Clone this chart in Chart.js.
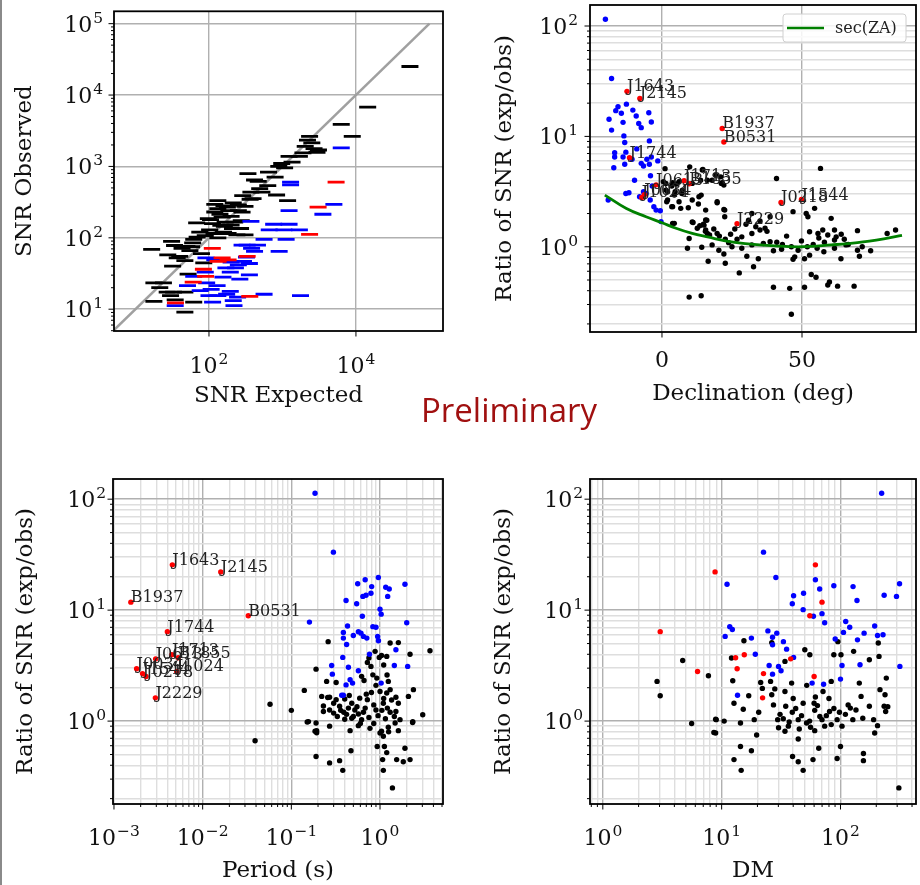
<!DOCTYPE html>
<html>
<head>
<meta charset="utf-8">
<script src="https://cdn.jsdelivr.net/npm/chart.js@4.4.1/dist/chart.umd.min.js"></script>
<style>
  body { margin: 0; background: #fff; width: 920px; height: 885px; position: relative; overflow: hidden; }
  .panel { position: absolute; }
  .edge { position: absolute; left: 0; top: 0; width: 2px; height: 885px; background: #8a8a8a; z-index: 2; }
  #prelim { position: absolute; left: 421px; top: 393px; font-family: "Open Sans"; font-size: 33px; line-height: 1; color: #a01010; white-space: nowrap; }
</style>
</head>
<body>
<div class="edge"></div>
<canvas id="snr" class="panel" style="left:0;top:0"></canvas>
<canvas id="dec" class="panel" style="left:460px;top:0"></canvas>
<canvas id="per" class="panel" style="left:0;top:440px"></canvas>
<canvas id="dm" class="panel" style="left:460px;top:440px"></canvas>
<div id="prelim">Preliminary</div>
<script>
// ---- SNR expected vs observed, [expected, observed]
const snrBlack = [[54300,25100],[14450,6760],[6310,3890],[8910,2630],[2340,2630],[2190,2340],[2510,2140],[2040,1910],
  [2690,1780],[1900,1550],[2950,1580],[1230,1380],[1700,1380],[977,1100],[339,794],[646,832],[794,708],[468,617],
  [631,537],[490,490],[1175,331],[372,437],[525,437],[288,389],[363,347],[132,331],[120,295],[214,309],[309,275],
  [132,257],[186,240],[251,240],[282,229],[68,162],[98,186],[151,195],[166,166],[224,166],[275,174],[162,145],
  [209,135],[269,135],[102,129],[117,115],[182,115],[240,110],[309,110],[69,102],[31,89],[34,78],[16.6,69],[43,71],
  [55,66],[79,60],[27.5,57.5],[37,52.5],[47,48],[85,44.7],[32,40],[52,31],[24,23.4],[27,17.4],[30,15.5],[17.8,12.9],
  [34.7,13.5],[47,17.4],[62,12.6],[47,9.1],[17.8,23.4],[21.4,20],[33,17.4],[141,214],[200,200],[112,158],[251,288],
  [398,355],[178,269],[89,107],[132,100],[60,85],[200,151],[158,120],[50,76],[417,646],[1350,1150],[3090,1700],
  [1070,955],[891,1000],[832,398],[120,230],[160,280],[105,180],[145,150],[75,120],[62,95],[40,55],[58,75]];
const snrBlue = [[6310,1820],[5010,295],[3550,214],[1290,603],[1290,550],[1230,240],[372,170],[759,155],[1230,155],
  [661,129],[1047,129],[1700,129],[562,95],[1122,95],[902,64.6],[331,79],[457,79],[380,71],[417,64.6],[91,52.5],
  [120,49],[295,46.8],[251,41.7],[170,38],[229,38],[324,53.7],[355,30.2],[195,33],[89,33],[62,28.8],[51,21.4],
  [93,23.4],[129,21.4],[195,17.8],[107,19],[100,15.5],[132,15.5],[174,16.2],[245,14.8],[562,16.2],[1760,15.5],
  [112,12.6],[214,13.2],[219,11.2],[34.7,11.2],[282,79],[200,45.7],[355,43.7],[155,28.2],[263,26.3],[76,18.2]];
const snrRed = [[5370,603],[3055,269],[2340,112],[111,71],[151,52.5],[61,24],[84,36.3],[359,15.1],[35,12.3],
  [331,55],[90,28.8],[133,46.8],[182,49]];
const oneToOne = [4, 1e5];

// ---- millisecond pulsars marked in red (shared by the ratio panels)
const mspNames  = ['B1937','J1643','J2145','B0531','J1744','J1713','B1855','J0613','J0034','J1024','J1544','J0218','J2229'];
const mspDec    = [21.5, -12.5, -7.9, 22.1, -11.6, 7.9, 9.7, -2.1, -6.3, -7.2, 49.8, 42.5, 26.8];
const mspPeriod = [0.00155, 0.00455, 0.016, 0.0327, 0.0040, 0.0045, 0.0053, 0.00295, 0.0018, 0.0051, 0.0021, 0.0023, 0.00293];
const mspDM     = [69.9, 61.5, 8.8, 55.2, 3.04, 15.5, 13.1, 38.1, 13.5, 6.27, 22.5, 60, 22.1];
const mspRatio  = [11.8, 25.6, 22.1, 8.9, 6.4, 3.96, 3.72, 3.64, 2.96, 2.80, 2.68, 2.52, 1.62];

// ---- ratio vs declination, [dec, ratio]
const decBlue = [[-20.2,115],[-18.0,33.5],[-12.7,19.6],[-15.7,18.6],[-16.5,17.1],[-14.5,16.2],[-10.4,17.3],[-9.2,15.3],
  [-4.7,16.4],[-18.9,14.3],[-13.9,13.4],[-8.3,13.1],[-7.4,12.0],[-3.8,13.5],[-18.0,11.4],[-13.6,10.1],[-4.5,9.1],
  [-13.3,8.8],[-9.0,7.7],[-16.9,7.1],[-16.9,6.5],[-13.9,6.5],[-12.9,7.2],[-10.7,6.2],[-7.4,5.7],[-5.4,6.2],[-3.8,6.5],
  [-1.5,6.0],[-17.2,5.2],[-13.3,5.6],[-6.6,5.4],[-4.5,5.6],[-4.1,4.4],[-9.8,4.0],[-12.9,3.04],[-11.8,3.09],[-8.0,2.84],
  [-6.6,3.15],[-3.5,3.55],[-19.2,2.65],[-2.9,2.31],[-2.1,2.15],[-0.6,2.12],[-0.35,1.69],[-4.2,2.65],[-5.7,3.04]];
const decBlack = [[1.1,5.1],[9.9,5.3],[14.4,4.96],[56.6,5.13],[40.9,4.16],[0.5,3.88],[3.8,3.8],[6.1,3.88],[10.8,3.75],
  [13.8,4.0],[17.9,4.0],[21.5,3.8],[22.1,3.62],[1.4,3.26],[4.4,2.94],[7.1,3.04],[10.8,2.65],[14.0,2.94],[19.7,2.56],
  [2.0,2.65],[6.1,2.56],[46.8,2.08],[3.8,2.31],[6.7,2.23],[9.4,2.26],[13.0,2.44],[15.6,2.15],[22.4,2.15],[51.5,2.0],
  [54.5,2.23],[32.1,2.0],[30.9,1.74],[35.0,1.71],[10.8,1.68],[16.0,1.74],[14.8,1.6],[60.4,1.81],[52.1,1.87],[3.8,1.63],
  [38.6,1.87],[9.7,1.19],[12.6,1.47],[15.6,1.42],[16.2,1.32],[19.7,1.32],[22.6,1.17],[23.8,1.09],[26.8,1.17],[28.5,1.23],
  [32.1,1.32],[35.0,1.42],[36.8,1.47],[44.5,1.25],[52.7,1.37],[55.7,1.32],[57.4,1.42],[59.2,1.28],[61.6,1.42],[62.2,1.23],
  [65.1,1.17],[69.8,1.4],[80.4,1.32],[83.4,1.42],[61.6,1.15],[49.8,1.13],[9.1,0.97],[14.2,0.99],[17.9,1.04],[20.3,0.93],
  [25.0,1.0],[28.5,0.97],[32.1,1.04],[36.2,1.07],[38.6,1.11],[39.8,0.92],[42.7,0.95],[46.2,1.0],[48.6,0.93],[51.9,1.0],
  [55.4,0.97],[57.8,0.90],[61.6,0.97],[65.7,1.04],[69.8,0.93],[74.5,0.92],[52.7,0.84],[16.5,0.74],[22.1,0.86],[22.6,0.71],
  [30.3,0.82],[34.4,0.78],[47.4,0.81],[50.9,0.78],[63.9,0.78],[70.5,0.82],[46.8,0.77],[32.7,0.66],[27.6,0.58],[53.3,0.56],
  [55.0,0.53],[59.2,0.45],[59.8,0.48],[62.7,0.44],[39.8,0.43],[45.6,0.42],[50.9,0.43],[68.6,0.44],[9.7,0.35],[14.0,0.36],
  [46.2,0.245],[1.4,3.75],[3.5,3.55],[5.2,3.7],[2.0,3.15],[4.7,3.15],[7.3,3.26],[1.7,2.56],[3.5,2.31],[14.6,5.02],
  [13.2,2.84],[19.7,2.5],[22.1,2.18],[22.4,1.87],[4.4,1.63],[11.1,1.66],[15.6,1.75],[15.0,1.57],[21.0,4.3],[21.2,3.75],
  [19.1,4.46],[16.2,4.0],[13.5,1.55],[15.5,1.38],[17.0,1.28],[18.5,1.45],[20.5,1.25],[24.5,1.3],[26.0,1.45],[30.0,1.6],
  [33.5,1.52],[37.5,1.38],[41.0,1.1],[43.0,1.05],[58.0,1.1],[64.0,1.3],[66.5,1.05],[71.5,1.0],[54.0,1.05],[56.0,1.2]];
// sec(ZA) curve read at a few declinations
const secDec = [-20.4, -12.7, -5.7, 0, 5, 10.8, 16.7, 22.6, 29.7, 40.3, 49.8, 60.4, 69.8, 79.2, 85.7];
const secVal = [2.94, 2.22, 1.87, 1.65, 1.47, 1.32, 1.22, 1.13, 1.07, 1.02, 1.0, 1.04, 1.09, 1.18, 1.27];

// ---- ratio vs period (s), [period, ratio]
const perBlue = [[0.185,113],[0.298,33.3],[0.56,17.3],[0.68,18.8],[0.957,19.7],[0.805,16.3],[1.16,16.1],[1.27,15.5],
  [1.91,17.1],[0.414,12.2],[0.545,11.4],[0.64,13.3],[0.695,13.6],[0.79,14.2],[1.22,13.3],[1.0,10.2],[1.03,9.2],[0.16,7.8],
  [0.632,8.8],[2.0,7.7],[0.43,7.2],[0.83,7.1],[0.90,7.0],[0.386,6.3],[0.50,5.9],[0.57,6.4],[0.61,6.2],[0.65,5.8],[0.71,5.6],
  [0.386,5.6],[0.94,5.8],[0.96,5.3],[0.42,4.9],[1.51,4.4],[0.76,4.0],[0.38,3.75],[0.285,3.17],[0.44,3.06],[1.45,3.17],
  [2.05,3.11],[0.57,2.84],[0.29,2.65],[0.46,2.36],[0.49,2.2],[0.414,2.12],[1.03,2.2],[0.37,1.71],[0.386,1.71]];
const perBlack = [[0.26,5.2],[1.30,5.05],[1.61,5.1],[2.18,4.0],[3.66,4.3],[0.88,4.25],[1.04,3.9],[1.19,3.83],[0.75,3.7],
  [0.72,3.38],[0.79,3.11],[0.98,3.75],[0.19,2.94],[0.83,2.61],[0.25,2.28],[0.32,2.23],[0.66,2.32],[0.92,2.44],[0.62,2.53],
  [1.24,2.28],[1.30,1.92],[1.51,1.64],[2.38,1.92],[2.09,1.67],[0.14,1.89],[0.22,1.67],[0.27,1.64],[0.32,1.56],[0.40,1.58],
  [0.48,1.45],[0.59,1.61],[0.72,1.56],[0.80,1.81],[1.0,1.85],[1.19,1.79],[1.09,1.45],[1.61,1.45],[0.23,1.37],[0.23,1.22],
  [0.27,1.26],[0.35,1.36],[0.39,1.20],[0.44,1.31],[0.52,1.26],[0.57,1.16],[0.68,1.31],[0.90,1.26],[1.21,1.31],[1.30,1.20],
  [1.51,1.22],[0.33,1.10],[0.40,1.04],[0.48,1.06],[0.62,1.03],[0.156,0.99],[0.19,0.96],[0.185,0.81],[0.27,0.90],[0.46,0.82],
  [0.57,0.91],[0.77,0.86],[1.04,0.81],[1.09,0.73],[1.24,0.88],[1.48,0.96],[1.68,1.03],[2.33,0.97],[3.03,1.14],[1.61,0.82],
  [0.93,0.59],[1.12,0.59],[0.47,0.54],[1.91,0.57],[1.19,0.52],[0.19,0.48],[0.35,0.44],[0.27,0.42],[1.07,0.45],[1.54,0.45],
  [1.83,0.43],[2.18,0.45],[0.38,0.36],[1.09,0.36],[1.38,0.25],[0.0575,1.42],[0.1,1.25],[0.039,0.665],[0.151,0.98],
  [0.193,0.785],[0.193,0.82],[0.257,1.63],[2.34,0.99],[0.30,1.18],[0.36,1.25],[0.42,1.15],[0.50,1.10],[0.55,1.35],
  [0.65,1.20],[0.75,1.08],[0.85,1.40],[0.95,1.12],[1.05,1.25],[1.15,1.05],[1.35,1.55],[1.45,1.10],[0.60,0.95],[0.85,0.95],
  [1.0,0.78],[1.25,0.80],[0.30,1.45],[0.70,1.75],[1.1,1.6],[0.9,2.1],[1.2,2.6],[1.1,3.2],[0.45,1.7]];

// ---- ratio vs DM, [dm, ratio]
const dmBlue = [[222,113],[22.5,33.3],[28.6,19.7],[11.1,17.1],[61.5,18.8],[40.3,13.5],[48.9,14.2],[66.8,15.5],[87.9,16.6],
  [127.6,16.3],[137.7,12.2],[233,13.6],[296,13.3],[314,17.3],[39.3,11.4],[48.5,10.1],[59.2,8.8],[69.9,9.3],[73.6,7.7],
  [11.7,7.1],[12.3,6.7],[10.7,5.8],[17.8,5.6],[24.5,6.5],[26.8,5.7],[29.1,6.2],[26.8,4.87],[33.1,5.2],[35.2,4.45],[19.2,4.0],
  [40.3,3.75],[110.7,7.9],[119.6,7.0],[106,6.3],[90.3,5.5],[158,6.2],[139,5.4],[194,7.2],[205,5.9],[228,6.0],[25.1,3.17],
  [30.1,3.11],[31.6,2.84],[26.8,2.65],[103,3.17],[146,3.22],[316,3.11],[100,2.39],[57.7,2.2],[72.1,2.15],[13.6,1.71]];
const dmBlack = [[2.86,2.28],[3.04,1.69],[4.7,3.52],[5.59,0.95],[7.74,2.56],[8.9,1.04],[8.9,0.78],[8.6,0.79],[10.5,1.0],
  [15.4,5.3],[26.4,5.1],[50.1,4.4],[55.2,3.96],[87.9,3.96],[101,3.96],[129,4.25],[208,5.05],[211,3.83],[175,3.57],[95,5.2],
  [12.1,3.7],[34.1,3.45],[12.4,2.31],[21.3,2.23],[25.8,2.28],[22.0,1.97],[34.1,1.85],[38.8,2.2],[61.5,1.65],[71.3,1.85],
  [83.6,2.28],[144,2.2],[149,1.67],[215,1.92],[243,2.44],[237,1.73],[16.9,1.69],[12.7,1.45],[15.2,1.28],[20.5,1.2],
  [26.4,1.73],[27.3,1.4],[29.6,1.03],[34.6,1.36],[39.3,1.2],[44.1,1.03],[48.5,1.45],[51.8,0.96],[60.7,1.25],[69.9,1.03],
  [80.9,1.22],[93.7,1.03],[103,0.9],[121,1.31],[135,1.26],[154,1.06],[175,1.36],[190,1.03],[205,0.91],[233,1.36],[240,1.22],
  [127,1.03],[9.0,1.03],[14.4,0.96],[18.8,1.03],[19.7,0.75],[30.1,0.87],[34.1,0.81],[36.4,0.9],[44.1,0.69],[60.7,0.82],
  [73.6,0.9],[83.6,0.93],[194,0.78],[14.4,0.59],[17.8,0.54],[12.7,0.45],[14.6,0.36],[39.5,0.48],[44.1,0.43],[48.5,0.36],
  [58.7,0.45],[65.6,0.57],[93.7,0.46],[100,0.59],[156,0.51],[156,0.44],[310,0.25],[31,1.15],[37,0.98],[42,1.3],[47,1.12],
  [55,1.0],[64,1.38],[76,1.12],[88,1.3],[110,1.15],[56,0.88],[33,1.05],[45,0.85],[67,1.1],[98,1.2],[116,1.4],[250,1.35],
  [40,1.6],[28,1.95],[52,2.1],[60,1.45],[80,1.6]];

const BLACK = '#000000', BLUE = '#0000ff', RED = '#ff0000', GREEN = '#008000';
const MAJOR_GRID = '#b0b0b0', MINOR_GRID = '#dedede';
const SERIF = '"DejaVu Serif"';
const titleFont = { family: 'DejaVu Serif', size: 23 };

// decade ticks (every `step` decades) plus optional 2..9 minors
function logTicks(min, max, step, minor) {
  const out = [];
  for (let e = Math.floor(Math.log10(min)); e <= Math.ceil(Math.log10(max)); e++) {
    for (let m = 1; m < 10; m++) {
      const v = m * Math.pow(10, e);
      if (v < min || v > max) continue;
      if (m === 1 && e % step === 0) out.push({ value: v, major: true });
      else if (minor) out.push({ value: v, major: false });
    }
  }
  return out;
}

function axis(o) {
  const left = o.pos === 'left';
  return {
    type: o.type || 'logarithmic',
    position: o.pos,
    min: o.min, max: o.max,
    afterBuildTicks: s => { s.ticks = o.ticks.map(t => Object.assign({}, t)); },
    afterFit: s => {
      if (left) { s.width = o.size; s.paddingTop = 0; s.paddingBottom = 0; }
      else { s.height = o.size; s.paddingLeft = 0; s.paddingRight = 0; }
    },
    // labels are drawn by the frame plugin so the exponents can be set smaller
    ticks: { display: false, autoSkip: false },
    grid: {
      drawTicks: false, lineWidth: 1.4,
      color: c => (c.tick && c.tick.major === false) ? (o.minorGrid ? MINOR_GRID : 'rgba(0,0,0,0)') : MAJOR_GRID
    },
    border: { display: false },
    title: {
      display: true, text: o.title, color: '#111', font: titleFont,
      padding: left ? { top: o.titlePad, bottom: 0 } : { top: 0, bottom: o.titlePad }
    }
  };
}

// "10" plus a raised exponent; align is where x sits: 'center' or 'right'
function drawPow(ctx, v, x, yBase, align) {
  const e = String(Math.round(Math.log10(v))).replace('-', '\u2212');
  ctx.font = '22px ' + SERIF;
  const wb = ctx.measureText('10').width;
  ctx.font = '15.5px ' + SERIF;
  const we = ctx.measureText(e).width;
  const w = wb + we + 1;
  const x0 = align === 'right' ? x - w : x - w / 2;
  ctx.font = '22px ' + SERIF;
  ctx.fillText('10', x0, yBase);
  ctx.font = '15.5px ' + SERIF;
  ctx.fillText(e, x0 + wb + 1, yBase - 9);
}

// black box round the axes, outward tick marks and the tick labels
function framePlugin(lab) {
  return {
    id: 'frame',
    afterDraw(chart) {
      const { ctx, chartArea: a, scales } = chart;
      ctx.save();
      ctx.strokeStyle = '#000';
      ctx.lineWidth = 1;
      for (const id of ['x', 'y']) {
        const s = scales[id];
        s.ticks.forEach(t => {
          const major = t.major !== false;
          const len = major ? 5.5 : 3;
          const p = s.getPixelForValue(t.value);
          ctx.beginPath();
          if (id === 'x') { ctx.moveTo(p, a.bottom); ctx.lineTo(p, a.bottom + len); }
          else { ctx.moveTo(a.left, p); ctx.lineTo(a.left - len, p); }
          ctx.stroke();
          if (!major) return;
          ctx.fillStyle = '#111';
          ctx.textBaseline = 'alphabetic';
          ctx.textAlign = 'left';
          if (id === 'x') {
            if (lab.linear) {
              ctx.font = '22px ' + SERIF;
              ctx.textAlign = 'center';
              ctx.fillText(String(t.value), p, a.bottom + lab.xBase);
            } else {
              drawPow(ctx, t.value, p, a.bottom + lab.xBase, 'center');
            }
          } else {
            drawPow(ctx, t.value, a.left - lab.yGap, p + 8, 'right');
          }
        });
      }
      ctx.lineWidth = 1.8;
      ctx.strokeRect(a.left, a.top, a.right - a.left, a.bottom - a.top);
      ctx.restore();
    }
  };
}

function namesPlugin(xs) {
  return {
    id: 'names',
    afterDatasetsDraw(chart) {
      const { ctx, scales: { x, y } } = chart;
      ctx.save();
      ctx.font = '16px ' + SERIF;
      ctx.fillStyle = '#222';
      ctx.textBaseline = 'alphabetic';
      mspNames.forEach((n, i) => ctx.fillText(n, x.getPixelForValue(xs[i]), y.getPixelForValue(mspRatio[i])));
      ctx.restore();
    }
  };
}

const secLegend = {
  id: 'secLegend',
  afterDraw(chart) {
    const { ctx, chartArea: a } = chart;
    const w = 123, h = 28, x0 = a.right - 10 - w, y0 = a.top + 9;
    ctx.save();
    ctx.fillStyle = 'rgba(255,255,255,0.85)';
    ctx.strokeStyle = '#d0d0d0';
    ctx.lineWidth = 1;
    ctx.beginPath();
    ctx.roundRect(x0, y0, w, h, 3);
    ctx.fill();
    ctx.stroke();
    ctx.strokeStyle = GREEN;
    ctx.lineWidth = 2.5;
    ctx.beginPath();
    ctx.moveTo(x0 + 4, y0 + h / 2);
    ctx.lineTo(x0 + 41, y0 + h / 2);
    ctx.stroke();
    ctx.fillStyle = '#222';
    ctx.font = '16px ' + SERIF;
    ctx.textBaseline = 'middle';
    ctx.fillText('sec(ZA)', x0 + 52, y0 + h / 2 + 1);
    ctx.restore();
  }
};

const toXY = pairs => pairs.map(p => ({ x: p[0], y: p[1] }));

function dots(pairs, color) {
  return { data: toXY(pairs), pointRadius: 2.7, pointBorderWidth: 0, pointBackgroundColor: color, backgroundColor: color, borderColor: color };
}

function dashes(pairs, color) {
  return { data: toXY(pairs), pointStyle: 'line', pointRadius: 8.5, pointBorderWidth: 2.8, pointBorderColor: color, borderColor: color };
}

function makeChart(id, w, h, pad, scales, datasets, lab, extra) {
  const canvas = document.getElementById(id);
  canvas.width = w;
  canvas.height = h;
  return new Chart(canvas, {
    type: 'scatter',
    data: { datasets },
    options: {
      responsive: false, animation: false, events: [],
      layout: { padding: pad },
      plugins: { legend: { display: false }, tooltip: { enabled: false } },
      scales
    },
    plugins: [framePlugin(lab)].concat(extra || [])
  });
}

const ratioTicks = logTicks(0.179, 152, 1, true);

// SNR observed vs expected
makeChart('snr', 460, 420, { left: 0, top: 5, right: 17, bottom: 0 }, {
  x: axis({ pos: 'bottom', min: 5.1, max: 1.53e5, ticks: logTicks(5.1, 1.53e5, 2, false), size: 89, title: 'SNR Expected', titlePad: 10 }),
  y: axis({ pos: 'left', min: 4.95, max: 1.49e5, ticks: logTicks(4.95, 1.49e5, 1, true), size: 114, title: 'SNR Observed', titlePad: 11 })
}, [
  dashes(snrRed, RED),
  dashes(snrBlue, BLUE),
  dashes(snrBlack, BLACK),
  { data: oneToOne.map(v => ({ x: v, y: v })), showLine: true, pointRadius: 0, borderColor: '#a0a0a0', borderWidth: 2.5 }
], { xBase: 42, yGap: 11 });

// ratio vs declination
makeChart('dec', 460, 420, { left: 0, top: 5, right: 1, bottom: 0 }, {
  x: axis({ type: 'linear', pos: 'bottom', min: -25.7, max: 90.7, ticks: [{ value: 0 }, { value: 50 }], size: 88, title: 'Declination (deg)', titlePad: 12 }),
  y: axis({ pos: 'left', min: 0.169, max: 155, ticks: logTicks(0.169, 155, 1, true), minorGrid: true, size: 130, title: 'Ratio of SNR (exp/obs)', titlePad: 31 })
}, [
  { data: secDec.map((d, i) => ({ x: d, y: secVal[i] })), showLine: true, tension: 0.4, pointRadius: 0, borderColor: GREEN, borderWidth: 2.8 },
  dots(mspDec.map((d, i) => [d, mspRatio[i]]), RED),
  dots(decBlue, BLUE),
  dots(decBlack, BLACK)
], { xBase: 35, yGap: 12, linear: true }, [namesPlugin(mspDec), secLegend]);

// ratio vs period
makeChart('per', 460, 445, { left: 0, top: 39, right: 17, bottom: 0 }, {
  x: axis({ pos: 'bottom', min: 0.000975, max: 5.13, ticks: logTicks(0.000975, 5.13, 1, true), minorGrid: true, size: 81, title: 'Period (s)', titlePad: 0 }),
  y: axis({ pos: 'left', min: 0.179, max: 152, ticks: ratioTicks, minorGrid: true, size: 113, title: 'Ratio of SNR (exp/obs)', titlePad: 12 })
}, [
  dots(mspPeriod.map((p, i) => [p, mspRatio[i]]), RED),
  dots(perBlue, BLUE),
  dots(perBlack, BLACK)
], { xBase: 41, yGap: 7 }, [namesPlugin(mspPeriod)]);

// ratio vs DM
makeChart('dm', 460, 445, { left: 0, top: 39, right: 1, bottom: 0 }, {
  x: axis({ pos: 'bottom', min: 0.78, max: 432, ticks: logTicks(0.78, 432, 1, true), minorGrid: true, size: 81, title: 'DM', titlePad: 0 }),
  y: axis({ pos: 'left', min: 0.179, max: 152, ticks: ratioTicks, minorGrid: true, size: 130, title: 'Ratio of SNR (exp/obs)', titlePad: 30 })
}, [
  dots(mspDM.map((d, i) => [d, mspRatio[i]]), RED),
  dots(dmBlue, BLUE),
  dots(dmBlack, BLACK)
], { xBase: 41, yGap: 7 });
</script>
</body>
</html>
